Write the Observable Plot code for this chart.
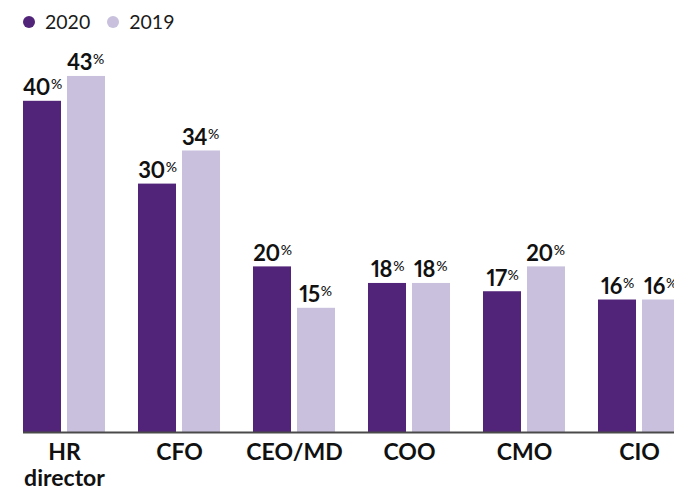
<!DOCTYPE html>
<html>
<head>
<meta charset="utf-8">
<script src="https://cdn.jsdelivr.net/npm/d3@7"></script>
<script src="https://cdn.jsdelivr.net/npm/@observablehq/plot@0.6"></script>
<style>
  html, body { margin: 0; padding: 0; background: #fff; overflow: hidden; width: 674px; }
  body { font-family: Lato, "Noto Sans", sans-serif; color: #1a1a1a; }
  #legend { height: 40px; display: flex; align-items: center; padding-left: 23px; padding-top: 3px; box-sizing: border-box; font-size: 19.5px; }
  .item { display: flex; align-items: center; margin-right: 17px; }
  .sw { width: 12px; height: 12px; border-radius: 50%; margin-right: 10px; }
  #chart { width: 674px; overflow: hidden; }
  #chart svg { display: block; max-width: none !important; }
</style>
</head>
<body>
<div id="legend"></div>
<div id="chart"></div>
<script>
const categories = ["HR director", "CFO", "CEO/MD", "COO", "CMO", "CIO"];
const values2020 = [40, 30, 20, 18, 17, 16];
const values2019 = [43, 34, 15, 18, 20, 16];
const years = ["2020", "2019"];
const colors = ["#512479", "#c8c0dc"];

// legend
const legend = document.getElementById("legend");
years.forEach((y, i) => {
  const it = document.createElement("div");
  it.className = "item";
  const sw = document.createElement("div");
  sw.className = "sw";
  sw.style.background = colors[i];
  const t = document.createElement("span");
  t.textContent = y;
  it.appendChild(sw); it.appendChild(t);
  legend.appendChild(it);
});

const d2020 = categories.map((c, i) => ({cat: c, value: values2020[i]}));
const d2019 = categories.map((c, i) => ({cat: c, value: values2019[i]}));

const labelStyle = {lineAnchor: "bottom", dy: -6, fontSize: 22, fontWeight: 700, fill: "#111", fontVariant: "proportional-nums"};

const chart = Plot.plot({
  width: 680,
  height: 449,
  marginLeft: 23,
  marginRight: 0,
  marginTop: 0,
  marginBottom: 0,
  style: {fontFamily: "Lato, 'Noto Sans', sans-serif", background: "#fff", maxWidth: "none"},
  x: {domain: categories, paddingInner: 0.287, paddingOuter: 0, round: false, axis: null},
  y: {domain: [0, 40], range: [392, 60.8], axis: null},
  marks: [
    Plot.barY(d2020, {x: "cat", y: "value", fill: colors[0], insetRight: 44}),
    Plot.barY(d2019, {x: "cat", y: "value", fill: colors[1], insetLeft: 44}),
    Plot.ruleY([0], {stroke: "#4a4a4a", strokeWidth: 2}),
    Plot.text(d2020, {x: "cat", y: "value", text: d => d.value + "%", dx: -22, ...labelStyle}),
    Plot.text(d2019, {x: "cat", y: "value", text: d => d.value + "%", dx: 21, ...labelStyle}),
    Plot.text(categories, {x: d => d, y: d => 0, text: d => d.replace(" ", "\n"), lineAnchor: "top", dy: 10, fontSize: 23, fontWeight: 700, lineHeight: 1.1, fill: "#111"})
  ]
});

// superscript percent signs
d3.select(chart).selectAll("text").each(function() {
  const el = this;
  if (el.querySelector("tspan")) return;
  const m = (el.textContent || "").match(/^(\d+)%$/);
  if (!m) return;
  el.textContent = m[1];
  el.setAttribute("letter-spacing", "-0.4");
  const ts = document.createElementNS("http://www.w3.org/2000/svg", "tspan");
  ts.setAttribute("font-size", "14");
  ts.setAttribute("font-weight", "500");
  ts.setAttribute("dy", "-6");
  ts.setAttribute("dx", "1");
  ts.textContent = "%";
  el.appendChild(ts);
});

document.getElementById("chart").appendChild(chart);
</script>
</body>
</html>
